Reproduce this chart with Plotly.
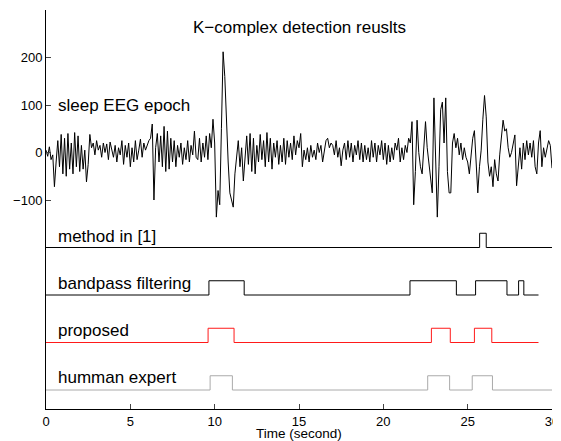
import numpy as np
import plotly.graph_objects as go

# ---------------- data ----------------
fs = 10
eeg = [
    5, -8, 12, -15, -5, -72, -20, 25, -30, 38,
    -45, 30, -50, 40, -35, 20, -45, 42, -30, 35,
    -40, 15, -35, 5, -62, -25, 38, 10, 20, -5,
    25, 5, 15, -10, 20, 0, 18, -15, 22, 5,
    -10, 15, -20, 10, -5, 25, -25, 15, -10, 20,
    -30, 10, -20, 25, -15, 5, 28, -10, 20, 5,
    15, 25, 30, 60, -100, 10, 40, -20, 35, -30,
    55, -40, 45, -35, 30, -20, 25, -30, 15, -10,
    20, -25, 10, -15, 25, -20, 15, -5, 45, -10,
    -15, 30, -20, 20, -10, 35, -15, 40, 10, 70,
    20, -136, -80, -110, 50, 212, 160, 60, -20, -85,
    -100, -115, -45, -10, 25, -30, 10, -60, -20, 35,
    -25, 40, -40, 30, -45, 15, -20, 38, -15, 25,
    -30, 42, -20, 30, -35, 20, -10, 25, -25, 15,
    -20, 30, -25, 25, -10, 20, -15, 35, -5, 25,
    10, 40, -30, 5, -15, 10, -20, 15, -10, 5,
    -15, 20, 0, 15, -20, 5, 25, 30, 10, 20,
    15, -5, 25, -10, 10, -28, 5, 20, -15, 25,
    -10, 20, -20, 15, -5, 25, -15, 20, -20, 15,
    -15, 10, -20, 25, -10, 20, -20, 15, -5, 25,
    -15, 20, -25, 15, -20, 10, -15, 20, 5, 30,
    -20, 10, -15, 15, 0, 30, 20, 65, -110, -40,
    68, 0, -30, -45, 20, 65, 10, -20, -50, -85,
    115, -20, -136, -30, 90, 106, 20, 115, -40, -85,
    -85, 20, 40, 10, 30, -5, 20, -15, 10, -10,
    -20, -45, -10, 30, 46, -20, -85, -30, 5, 70,
    120, 75, -20, -50, -30, -72, -15, -45, -60, -5,
    40, 68, 45, 50, 10, -10, 0, 20, 37, -70,
    -20, 10, -35, 20, -15, 25, -5, 20, -10, 25,
    -30, -45, 20, 46, -30, 10, -10, 10, 25, 15, -33,
]
eeg_t = [i / fs for i in range(len(eeg))]

method1_t = [0, 25.71, 26.10, 30.0]
method1_v = [0, 1, 0, 0]

bandpass_t = [0, 9.66, 11.75, 21.58, 24.33, 25.47, 27.33, 28.02, 28.33, 29.2]
bandpass_v = [0, 1, 0, 1, 0, 1, 0, 1, 0, 0]

proposed_t = [0, 9.61, 11.15, 22.85, 23.97, 25.40, 26.43, 29.2]
proposed_v = [0, 1, 0, 1, 0, 1, 0, 0]

human_t = [0, 9.73, 11.05, 22.63, 23.93, 25.27, 26.47, 30.0]
human_v = [0, 1, 0, 1, 0, 1, 0, 0]

labels = ["sleep EEG epoch", "method in [1]", "bandpass filtering", "proposed", "humman expert"]
x_ticks = [0, 5, 10, 15, 20, 25, 30]
y_ticks = [-100, 0, 100, 200]

# ---------------- layout constants ----------------
offsets = [0, -200, -300, -400, -500]
pulse_h = 30
FONT = "Liberation Sans, Arial, Helvetica, sans-serif"

fig = go.Figure()
fig.add_trace(go.Scatter(x=eeg_t, y=eeg, mode="lines",
                         line=dict(color="black", width=1), hoverinfo="skip"))

steps = [
    (method1_t, method1_v, offsets[1], "black"),
    (bandpass_t, bandpass_v, offsets[2], "black"),
    (proposed_t, proposed_v, offsets[3], "#ff1a1a"),
    (human_t, human_v, offsets[4], "#aaaaaa"),
]
for t, v, off, col in steps:
    fig.add_trace(go.Scatter(x=t, y=[off + pulse_h * a for a in v], mode="lines",
                             line=dict(color=col, width=1, shape="hv"), hoverinfo="skip"))

label_y = [100, offsets[1] + 24, offsets[2] + 24, offsets[3] + 26, offsets[4] + 26]
for txt, yy in zip(labels, label_y):
    fig.add_annotation(x=0.6, y=yy, text=txt, showarrow=False, xanchor="left",
                       yanchor="middle", font=dict(family=FONT, size=17, color="black"))

fig.add_annotation(xref="paper", yref="paper", x=0.5, y=1, yshift=-17,
                   text="K\u2212complex detection reuslts", showarrow=False,
                   xanchor="center", yanchor="middle",
                   font=dict(family=FONT, size=17, color="black"))

fig.add_annotation(xref="paper", yref="paper", x=0.5, y=0, yshift=-24,
                   text="Time (second)", showarrow=False,
                   xanchor="center", yanchor="middle",
                   font=dict(family=FONT, size=13.5, color="black"))

# page body has an 8px default margin, so the figure is 8px smaller and offset
fig.update_layout(
    width=553, height=433,
    margin=dict(l=38, r=9, t=2, b=32, autoexpand=False),
    paper_bgcolor="white", plot_bgcolor="white",
    showlegend=False,
    font=dict(family=FONT, size=13, color="black"),
    xaxis=dict(range=[0, 30], tickvals=x_ticks, ticks="inside", ticklen=5,
               showline=True, linecolor="black", linewidth=1, showgrid=False,
               zeroline=False, tickfont=dict(size=13), automargin=False),
    yaxis=dict(range=[-540, 300], tickvals=y_ticks, ticks="inside", ticklen=5,
               showline=True, linecolor="black", linewidth=1, showgrid=False,
               zeroline=False, tickfont=dict(size=13), automargin=False),
)

fig.write_html("out.html")
